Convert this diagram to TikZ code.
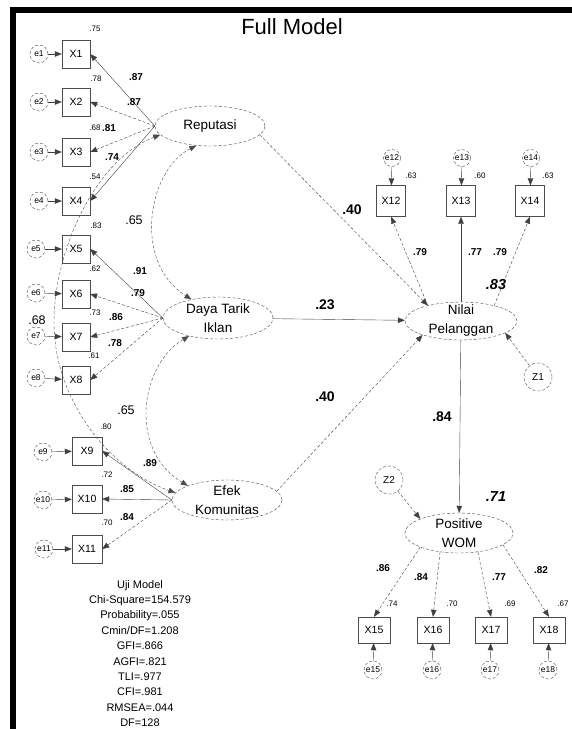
\documentclass[tikz,border=0pt]{standalone}
\usepackage{fontspec}
\setmainfont{Liberation Sans}
\usepackage{tikz}
\usetikzlibrary{arrows.meta,shapes.geometric}

\begin{document}
\begin{tikzpicture}[x=1pt, y=-1pt,
    obsnode/.style={rectangle, draw=black!70, minimum width=28pt, minimum height=28pt, inner sep=0pt, font=\fontsize{10.5}{12}\selectfont},
    errnode/.style={circle, draw=black!70, densely dashed, minimum size=18pt, inner sep=0pt, font=\fontsize{8.5}{9}\selectfont},
    latnode/.style={ellipse, draw=black!70, densely dashed, minimum width=110pt, minimum height=40pt, inner xsep=0pt, inner ysep=-6pt, align=center, font=\fontsize{13.5}{19}\selectfont},
    distnode/.style={circle, draw=black!70, densely dashed, minimum size=28pt, inner sep=0pt, font=\fontsize{10}{11}\selectfont},
    ln/.style={draw=black!75, -{Triangle[length=7pt,width=5.5pt]}},
    lnd/.style={ln, densely dashed},
    corr/.style={draw=black!70, densely dashed, {Triangle[length=7pt,width=5.5pt]}-{Triangle[length=7pt,width=5.5pt]}},
    rsq/.style={font=\fontsize{8}{9}\selectfont},
    ld/.style={font=\bfseries\fontsize{10}{11}\selectfont},
    bigld/.style={font=\bfseries\fontsize{14}{15}\selectfont},
    rlbl/.style={font=\bfseries\itshape\fontsize{14.5}{15}\selectfont},
    clbl/.style={font=\fontsize{12.5}{13}\selectfont}
]
\useasboundingbox (0,0) rectangle (572,729);
\draw[line width=5.5pt] (13,729) -- (13,10) -- (572,10);
\node[font=\fontsize{22}{24}\selectfont] (ttl) at (292,27) {Full Model};

% exogenous latents
\node[latnode] (rep) at (210,126) {Reputasi};
\node[latnode, minimum height=42pt] (dti) at (218,318) {Daya Tarik\\Iklan};
\node[latnode] (efk) at (227,500) {Efek\\Komunitas};

% Reputasi indicators
\node[obsnode] (x1) at (76,54) {X1};
\node[obsnode] (x2) at (76,102) {X2};
\node[obsnode] (x3) at (76,152) {X3};
\node[obsnode] (x4) at (76,201) {X4};
\node[errnode] (e1) at (39,54) {e1};
\node[errnode] (e2) at (39,102) {e2};
\node[errnode] (e3) at (39,152) {e3};
\node[errnode] (e4) at (39,201) {e4};
\draw[ln] (e1) -- (x1);
\draw[ln] (e2) -- (x2);
\draw[ln] (e3) -- (x3);
\draw[ln] (e4) -- (x4);
\draw[ln] (rep.west) -- (x1.east);
\draw[lnd] (rep.west) -- (x2.east);
\draw[lnd] (rep.west) -- (x3.east);
\draw[ln] (rep.west) -- (x4.east);

% Daya Tarik Iklan indicators
\node[obsnode] (x5) at (76,249) {X5};
\node[obsnode] (x6) at (76,294) {X6};
\node[obsnode] (x7) at (76,337) {X7};
\node[obsnode] (x8) at (76,380) {X8};
\node[errnode] (e5) at (36,249) {e5};
\node[errnode] (e6) at (36,293) {e6};
\node[errnode] (e7) at (36,336) {e7};
\node[errnode] (e8) at (36,378) {e8};
\draw[ln] (e5) -- (x5);
\draw[ln] (e6) -- (x6);
\draw[ln] (e7) -- (x7);
\draw[ln] (e8) -- (x8);
\draw[ln] (dti.west) -- (x5.east);
\draw[lnd] (dti.west) -- (x6.east);
\draw[lnd] (dti.west) -- (x7.east);
\draw[lnd] (dti.west) -- (x8.east);

% Efek Komunitas indicators
\node[obsnode, minimum width=30pt] (x9) at (87,451) {X9};
\node[obsnode, minimum width=30pt] (x10) at (87,499) {X10};
\node[obsnode, minimum width=30pt] (x11) at (87,549) {X11};
\node[errnode] (e9) at (43,452) {e9};
\node[errnode] (e10) at (43,500) {e10};
\node[errnode] (e11) at (44,549) {e11};
\draw[ln] (e9) -- (x9);
\draw[ln] (e10) -- (x10);
\draw[ln] (e11) -- (x11);
\draw[ln] (efk.west) -- (x9.east);
\draw[ln] (efk.west) -- (x10.east);
\draw[lnd] (efk.west) -- (x11.east);

% correlations
\draw[corr] (rep.235) .. controls (148,170) and (132,262) .. (dti.145);
\draw[corr] (dti.212) .. controls (140,365) and (128,450) .. (efk.160);
\draw[corr] (rep.190) .. controls (95,160) and (55,250) .. (54,320) .. controls (53,400) and (110,470) .. (efk.172);

% endogenous
\node[latnode, minimum width=112pt, minimum height=38pt] (nil) at (461,321) {Nilai\\Pelanggan};
\node[latnode, minimum width=108pt] (wom) at (459,533) {Positive\\WOM};
\node[distnode] (z1) at (538,377) {Z1};
\node[distnode] (z2) at (389,480) {Z2};
\draw[lnd] (rep.-10) -- (nil.155);
\draw[ln] (dti) -- (nil);
\draw[lnd] (efk.10) -- (nil.200);
\draw[lnd] (z1) -- (nil.-15);
\draw[ln] (nil) -- (wom);
\draw[lnd] (z2) -- (wom.160);

% Nilai Pelanggan indicators
\node[obsnode, minimum width=29pt, minimum height=31pt] (x12) at (391,201) {X12};
\node[obsnode, minimum width=29pt, minimum height=31pt] (x13) at (461,201) {X13};
\node[obsnode, minimum width=29pt, minimum height=31pt] (x14) at (530,201) {X14};
\node[errnode, minimum size=17pt] (e12) at (392,158) {e12};
\node[errnode, minimum size=17pt] (e13) at (462,158) {e13};
\node[errnode, minimum size=17pt] (e14) at (531,158) {e14};
\draw[ln] (e12) -- (x12);
\draw[ln] (e13) -- (x13);
\draw[ln] (e14) -- (x14);
\draw[lnd] (nil.155) -- (x12.south);
\draw[ln] (nil.north) -- (x13.south);
\draw[lnd] (nil.25) -- (x14.south);

% Positive WOM indicators
\node[obsnode, minimum width=32pt, minimum height=26pt] (x15) at (374,630) {X15};
\node[obsnode, minimum width=32pt, minimum height=26pt] (x16) at (433,630) {X16};
\node[obsnode, minimum width=32pt, minimum height=26pt] (x17) at (491,630) {X17};
\node[obsnode, minimum width=32pt, minimum height=26pt] (x18) at (549,630) {X18};
\node[errnode] (e15) at (373,670) {e15};
\node[errnode] (e16) at (432,670) {e16};
\node[errnode] (e17) at (490,670) {e17};
\node[errnode] (e18) at (548,670) {e18};
\draw[ln] (e15) -- (x15);
\draw[ln] (e16) -- (x16);
\draw[ln] (e17) -- (x17);
\draw[ln] (e18) -- (x18);
\draw[lnd] (wom.200) -- (x15.north);
\draw[lnd] (wom.225) -- (x16.north);
\draw[lnd] (wom.-45) -- (x17.north);
\draw[lnd] (wom.-15) -- (x18.north);

% squared multiple correlations
\node[rsq] (r1) at (95,29) {.75};
\node[rsq] (r2) at (96,79) {.78};
\node[rsq] (r3) at (95,128) {.68};
\node[rsq] (r4) at (95,177) {.54};
\node[rsq] (r5) at (96,226) {.83};
\node[rsq] (r6) at (95,269) {.62};
\node[rsq] (r7) at (95,313) {.73};
\node[rsq] (r8) at (94,356) {.61};
\node[rsq] (r9) at (106,427) {.80};
\node[rsq] (r10) at (107,475) {.72};
\node[rsq] (r11) at (107,523) {.70};
\node[rsq] (r12) at (411,176) {.63};
\node[rsq] (r13) at (480,176) {.60};
\node[rsq] (r14) at (548,176) {.63};
\node[rsq] (r15) at (392,604) {.74};
\node[rsq] (r16) at (452,604) {.70};
\node[rsq] (r17) at (510,604) {.69};
\node[rsq] (r18) at (563,604) {.67};

% loadings
\node[ld] (k1) at (136,77) {.87};
\node[ld] (k2) at (134,102) {.87};
\node[ld] (k3) at (109,128) {.81};
\node[ld] (k4) at (112,157) {.74};
\node[ld] (k5) at (140,271) {.91};
\node[ld] (k6) at (138,293) {.79};
\node[ld] (k7) at (116,317) {.86};
\node[ld] (k8) at (115,343) {.78};
\node[ld] (k9) at (150,463) {.89};
\node[ld] (k10) at (127,489) {.85};
\node[ld] (k11) at (127,517) {.84};
\node[ld] (k12) at (420,252) {.79};
\node[ld] (k13) at (475,252) {.77};
\node[ld] (k14) at (500,252) {.79};
\node[ld] (k15) at (383,568) {.86};
\node[ld] (k16) at (421,577) {.84};
\node[ld] (k17) at (499,577) {.77};
\node[ld] (k18) at (541,570) {.82};

% correlations and paths
\node[clbl] (c1) at (134,220) {.65};
\node[clbl] (c2) at (126,410) {.65};
\node[clbl] (c3) at (37,320) {.68};
\node[bigld] (p1) at (352,210) {.40};
\node[bigld] (p2) at (325,305) {.23};
\node[bigld] (p3) at (325,397) {.40};
\node[bigld] (p4) at (442,417) {.84};
\node[rlbl] (q1) at (496,285) {.83};
\node[rlbl] (q2) at (496,497) {.71};

\node[font=\fontsize{11}{15.4}\selectfont, align=center] (uji) at (140,653.5) {Uji Model\\Chi-Square=154.579\\Probability=.055\\Cmin/DF=1.208\\GFI=.866\\AGFI=.821\\TLI=.977\\CFI=.981\\RMSEA=.044\\DF=128};
\end{tikzpicture}
\end{document}
